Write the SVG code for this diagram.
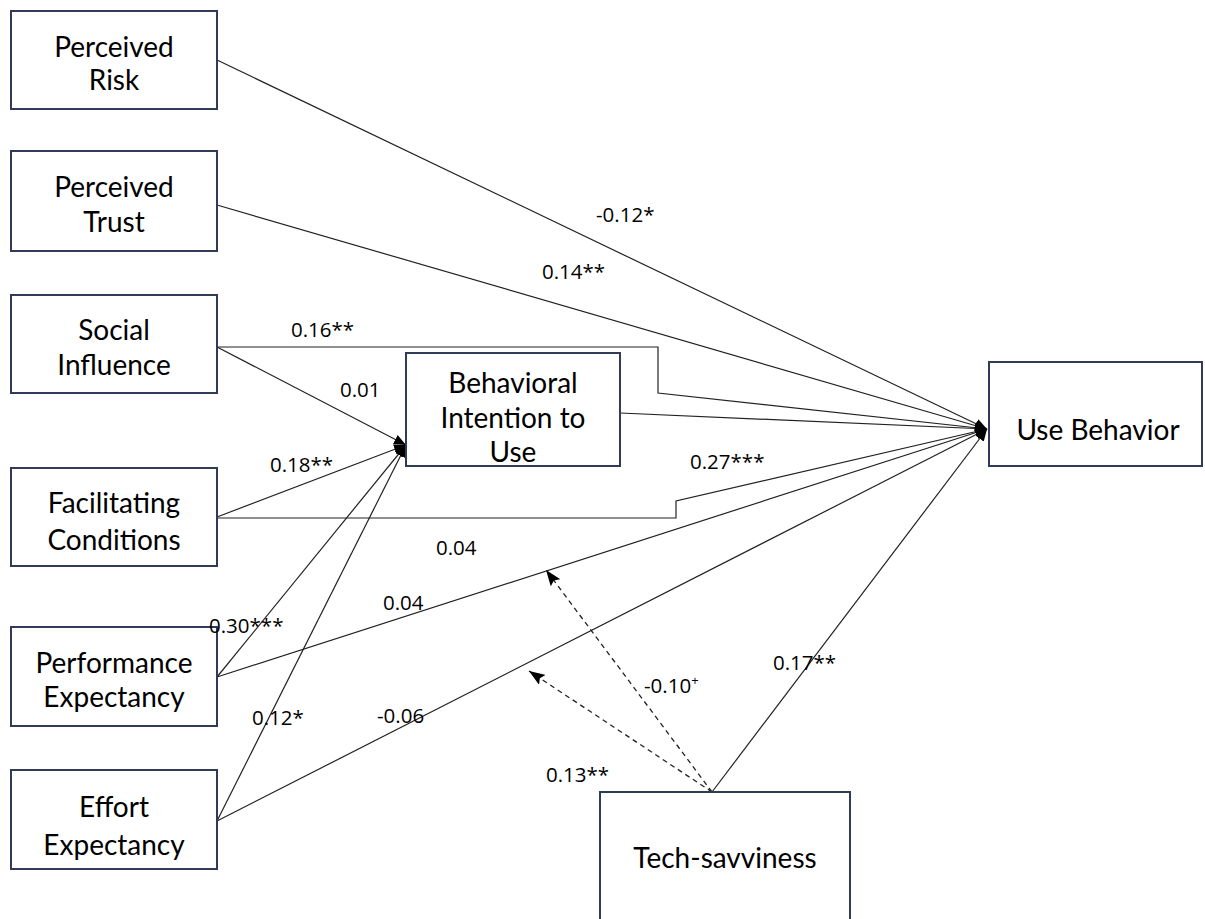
<svg xmlns="http://www.w3.org/2000/svg" width="1205" height="919" viewBox="0 0 1205 919">
<defs>
<style>
.box{fill:#fff;stroke:#2f3b57;stroke-width:2}
.t{font-family:Lato,"Liberation Sans",sans-serif;font-size:28px;fill:#000;text-anchor:middle}
.l{font-family:"Open Sans","Liberation Sans",sans-serif;font-size:20.5px;fill:#000}
.c{fill:none;stroke:#222;stroke-width:1.2}
.d{fill:none;stroke:#222;stroke-width:1.3;stroke-dasharray:5,4}
</style>
<marker id="ah" viewBox="0 0 12 10" refX="12" refY="5" markerWidth="12" markerHeight="10" markerUnits="userSpaceOnUse" orient="auto">
<path d="M0,0 L12,5 L0,10 Z" fill="#000"/>
</marker>
<marker id="dh" viewBox="0 0 16 12" refX="16" refY="6" markerWidth="16" markerHeight="12" markerUnits="userSpaceOnUse" orient="auto">
<path d="M0,0 L16,6 L0,12 L3,6 Z" fill="#000"/>
</marker>
</defs>
<rect width="1205" height="919" fill="#fff"/>
<g id="connectors">
<polyline class="c" points="217,60 987,429" marker-end="url(#ah)"/>
<polyline class="c" points="217,205 987,429" marker-end="url(#ah)"/>
<polyline class="c" points="217,347 658,347 658,393 987,429" marker-end="url(#ah)"/>
<polyline class="c" points="217,347 406,445" marker-end="url(#ah)"/>
<polyline class="c" points="217,517 406,445" marker-end="url(#ah)"/>
<polyline class="c" points="217,518 676,518 676,501 987,429" marker-end="url(#ah)"/>
<polyline class="c" points="217,677 406,445" marker-end="url(#ah)"/>
<polyline class="c" points="217,677 987,429" marker-end="url(#ah)"/>
<polyline class="c" points="217,821 406,445" marker-end="url(#ah)"/>
<polyline class="c" points="217,821 987,429" marker-end="url(#ah)"/>
<polyline class="c" points="620,413 987,429" marker-end="url(#ah)"/>
<polyline class="c" points="712,792 987,429" marker-end="url(#ah)"/>
<polyline class="d" points="712,792 546,570" marker-end="url(#dh)"/>
<polyline class="d" points="712,792 529,671" marker-end="url(#dh)"/>
</g>
<g id="perceived-risk"><rect class="box" x="11" y="11" width="206" height="98"/><text class="t" x="114" y="57">Perceived</text><text class="t" x="114" y="90">Risk</text></g>
<g id="perceived-trust"><rect class="box" x="11" y="151" width="206" height="100"/><text class="t" x="114" y="197">Perceived</text><text class="t" x="114" y="232">Trust</text></g>
<g id="social-influence"><rect class="box" x="11" y="295" width="206" height="98"/><text class="t" x="114" y="340">Social</text><text class="t" x="114" y="375">Influence</text></g>
<g id="facilitating-conditions"><rect class="box" x="11" y="468" width="206" height="98"/><text class="t" x="114" y="513">Facilitating</text><text class="t" x="114" y="550">Conditions</text></g>
<g id="performance-expectancy"><rect class="box" x="11" y="627" width="206" height="99"/><text class="t" x="114" y="673">Performance</text><text class="t" x="114" y="707">Expectancy</text></g>
<g id="effort-expectancy"><rect class="box" x="11" y="770" width="206" height="99"/><text class="t" x="114" y="817">Effort</text><text class="t" x="114" y="855">Expectancy</text></g>
<g id="behavioral-intention"><rect class="box" x="406" y="353" width="214" height="113"/><text class="t" x="513" y="393">Behavioral</text><text class="t" x="513" y="428">Intention to</text><text class="t" x="513" y="462">Use</text></g>
<g id="use-behavior"><rect class="box" x="989" y="362" width="213" height="104"/><text class="t" x="1098" y="440">Use Behavior</text></g>
<g id="tech-savviness"><rect class="box" x="600" y="792" width="250" height="140"/><text class="t" x="725" y="868">Tech-savviness</text></g>
<g id="labels">
<text class="l" x="596" y="222">-0.12*</text>
<text class="l" x="542" y="279">0.14**</text>
<text class="l" x="291" y="337">0.16**</text>
<text class="l" x="340" y="397">0.01</text>
<text class="l" x="270" y="472">0.18**</text>
<text class="l" x="690" y="469">0.27***</text>
<text class="l" x="436" y="555">0.04</text>
<text class="l" x="209" y="633">0.30***</text>
<text class="l" x="383" y="610">0.04</text>
<text class="l" x="773" y="670">0.17**</text>
<text class="l" x="644" y="693">-0.10<tspan font-size="13" dy="-8">+</tspan></text>
<text class="l" x="377" y="723">-0.06</text>
<text class="l" x="252" y="725">0.12*</text>
<text class="l" x="546" y="782">0.13**</text>
</g>
</svg>
